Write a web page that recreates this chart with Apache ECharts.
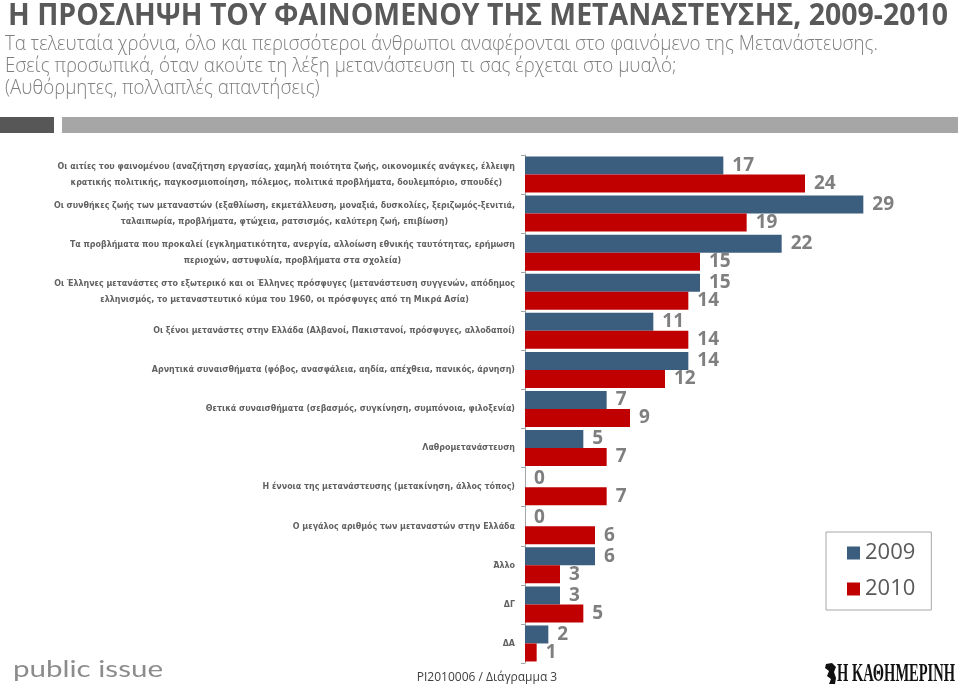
<!DOCTYPE html>
<html>
<head>
<meta charset="utf-8">
<script src="https://cdn.jsdelivr.net/npm/echarts@6/dist/echarts.min.js"></script>
<style>
html,body{margin:0;padding:0;background:#fff;}
#chart{width:960px;height:687px;}
</style>
</head>
<body>
<div id="chart"></div>
<script>
// ---- data ----
const categories = [
  "Οι αιτίες του φαινομένου (αναζήτηση εργασίας, χαμηλή ποιότητα ζωής, οικονομικές ανάγκες, έλλειψη\nκρατικής πολιτικής, παγκοσμιοποίηση, πόλεμος, πολιτικά προβλήματα, δουλεμπόριο, σπουδές)",
  "Οι συνθήκες ζωής των μεταναστών (εξαθλίωση, εκμετάλλευση, μοναξιά, δυσκολίες, ξεριζωμός-ξενιτιά,\nταλαιπωρία, προβλήματα, φτώχεια, ρατσισμός, καλύτερη ζωή, επιβίωση)",
  "Τα προβλήματα που προκαλεί (εγκληματικότητα, ανεργία, αλλοίωση εθνικής ταυτότητας, ερήμωση\nπεριοχών, αστυφυλία, προβλήματα στα σχολεία)",
  "Οι Έλληνες μετανάστες στο εξωτερικό και οι Έλληνες πρόσφυγες (μετανάστευση συγγενών, απόδημος\nελληνισμός, το μεταναστευτικό κύμα του 1960, οι πρόσφυγες από τη Μικρά Ασία)",
  "Οι ξένοι μετανάστες στην Ελλάδα (Αλβανοί, Πακιστανοί, πρόσφυγες, αλλοδαποί)",
  "Αρνητικά συναισθήματα (φόβος, ανασφάλεια, αηδία, απέχθεια, πανικός, άρνηση)",
  "Θετικά συναισθήματα (σεβασμός, συγκίνηση, συμπόνοια, φιλοξενία)",
  "Λαθρομετανάστευση",
  "Η έννοια της μετανάστευσης (μετακίνηση, άλλος τόπος)",
  "Ο μεγάλος αριθμός των μεταναστών στην Ελλάδα",
  "Άλλο",
  "ΔΓ",
  "ΔΑ"
];
const seriesNames = ["2009", "2010"];
const values2009 = [17, 29, 22, 15, 11, 14, 7, 5, 0, 0, 6, 3, 2];
const values2010 = [24, 19, 15, 14, 14, 12, 9, 7, 7, 6, 3, 5, 1];
const titleText = "Η ΠΡΟΣΛΗΨΗ ΤΟΥ ΦΑΙΝΟΜΕΝΟΥ ΤΗΣ ΜΕΤΑΝΑΣΤΕΥΣΗΣ, 2009-2010";
const subtitleLines = [
  "Τα τελευταία χρόνια, όλο και περισσότεροι άνθρωποι αναφέρονται στο φαινόμενο της Μετανάστευσης.",
  "Εσείς προσωπικά, όταν ακούτε τη λέξη μετανάστευση τι σας έρχεται στο μυαλό;",
  "(Αυθόρμητες, πολλαπλές απαντήσεις)"
];
const footerText = "PI2010006 / Διάγραμμα 3";
const logoLeft = "public issue";
const logoRight = "Η ΚΑΘΗΜΕΡΙΝΗ";

// ---- helpers ----
const ctx = document.createElement('canvas').getContext('2d');
function measure(text, font) { ctx.font = font; return ctx.measureText(text).width; }
function fit(text, font, target) { return target / measure(text, font); }

const F = "'Open Sans', 'Noto Sans', sans-serif";

// pick a narrow font for the category labels if one is installed
const probe = "Οι αιτίες του φαινομένου abcdefghijklmnop 1234567890";
function installed(name) {
  const a = measure(probe, "bold 20px '" + name + "', monospace");
  const b = measure(probe, "bold 20px monospace");
  const c = measure(probe, "bold 20px '" + name + "', serif");
  const d = measure(probe, "bold 20px serif");
  return a !== b || c !== d;
}
const narrowCandidates = ["Liberation Sans Narrow", "DejaVu Sans Condensed", "Roboto Condensed", "Open Sans Condensed", "Liberation Sans"];
let catFamily = "Liberation Sans";
for (const n of narrowCandidates) { if (installed(n)) { catFamily = n; break; } }
const CF = "'" + catFamily + "', " + F;

const titleFont = "bold 30px " + F;
const subFont = "300 20px " + F;
const titleScale = fit(titleText, titleFont, 940);
const subScale = fit(subtitleLines[0], subFont, 873);

// category label font size fitted to reference width
const catLine = categories[0].split('\n')[0];
const catSize = Math.min(11, 10 * 458 / measure(catLine, "bold 10px " + CF));

const chart = echarts.init(document.getElementById('chart'), null, {renderer: 'canvas'});

const labelStyle = {
  show: true, position: 'right', distance: 9,
  color: '#7f7f7f', fontSize: 19, fontWeight: 'bold', fontFamily: F
};

chart.setOption({
  animation: false,
  backgroundColor: '#ffffff',
  grid: {left: 525, top: 155, width: 350, height: 508, containLabel: false},
  xAxis: {type: 'value', min: 0, max: 30, show: false},
  yAxis: {
    type: 'category', inverse: true, data: categories,
    axisLine: {show: true, lineStyle: {color: '#a6a6a6', width: 1}},
    axisTick: {show: true, length: 4, lineStyle: {color: '#a6a6a6'}},
    axisLabel: {
      margin: 10,
      formatter: function (v) {
        return v.split('\n').map(function (l) { return '{c|' + l + '}'; }).join('\n');
      },
      rich: {
        c: {align: 'center', fontSize: catSize, fontWeight: 'bold', fontFamily: CF,
            color: '#626262', lineHeight: 16}
      }
    },
    splitLine: {show: false}
  },
  legend: {
    orient: 'vertical', left: 826, top: 532,
    data: seriesNames,
    icon: 'rect', itemWidth: 13, itemHeight: 13, itemGap: 14,
    borderColor: '#a6a6a6', borderWidth: 1,
    padding: [10, 16, 10, 21],
    textStyle: {fontSize: 22, color: '#595959', fontFamily: F}
  },
  series: [
    {name: seriesNames[0], type: 'bar', data: values2009, barWidth: 18, barGap: '0%',
     itemStyle: {color: '#3b5e7f'}, label: labelStyle},
    {name: seriesNames[1], type: 'bar', data: values2010, barWidth: 18,
     itemStyle: {color: '#c00000'}, label: labelStyle}
  ],
  graphic: [
    {type: 'text', left: 8, top: 1, scaleX: titleScale, originX: 0,
     style: {text: titleText, font: titleFont, fill: '#595959'}},
    {type: 'text', x: 5, y: 44, scaleX: subScale,
     style: {text: subtitleLines[0], font: subFont, fill: '#7f7f7f', textVerticalAlign: 'middle'}},
    {type: 'text', x: 5, y: 66, scaleX: subScale,
     style: {text: subtitleLines[1], font: subFont, fill: '#7f7f7f', textVerticalAlign: 'middle'}},
    {type: 'text', x: 5, y: 88, scaleX: subScale,
     style: {text: subtitleLines[2], font: subFont, fill: '#7f7f7f', textVerticalAlign: 'middle'}},
    {type: 'rect', shape: {x: 0, y: 117, width: 54, height: 16}, style: {fill: '#575757'}},
    {type: 'rect', shape: {x: 62, y: 117, width: 896, height: 16}, style: {fill: '#a6a6a6'}},
    {type: 'text', x: 487, y: 678,
     style: {text: footerText, font: "12px " + F, fill: '#404040', textAlign: 'center', textVerticalAlign: 'middle'}},
    {type: 'text', x: 13, y: 669, scaleX: fit(logoLeft, "24px Lato, sans-serif", 150),
     style: {text: logoLeft, font: "24px Lato, sans-serif", fill: '#8c8c8c', textVerticalAlign: 'middle'}},
    {type: 'text', x: 837, y: 674, scaleX: fit(logoRight, "bold 26px 'Liberation Serif', serif", 118),
     style: {text: logoRight, font: "bold 26px 'Liberation Serif', serif", fill: '#111111', textVerticalAlign: 'middle'}},
    {type: 'polygon', shape: {points: [[826,664],[832,663],[836,667],[834,672],[836,678],[835,684],[829,684],[831,679],[827,676],[829,671],[825,668]]},
     style: {fill: '#111111'}}
  ]
});
</script>
</body>
</html>
